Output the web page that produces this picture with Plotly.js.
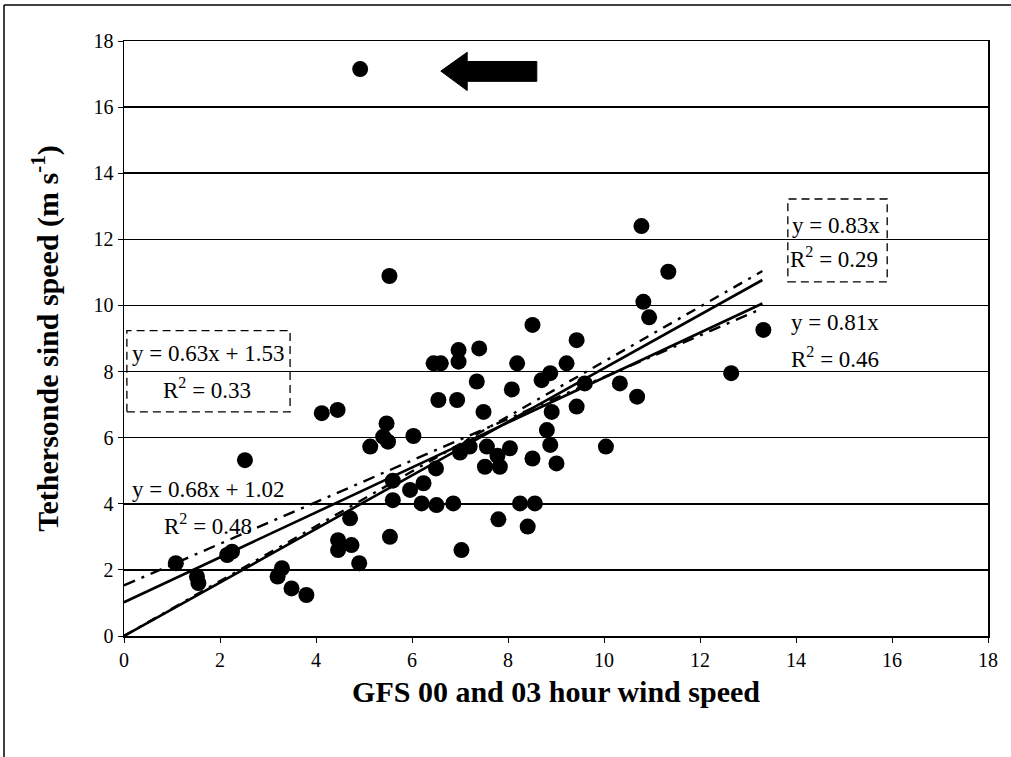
<!DOCTYPE html>
<html>
<head>
<meta charset="utf-8">
<script src="https://cdn.plot.ly/plotly-3.0.1.min.js"></script>
<style>html,body{margin:0;padding:0;background:#fff;}#chart{width:1011px;height:757px;}</style>
</head>
<body>
<div id="chart"></div>
<script>
// Observations: GFS wind speed (x) vs tethersonde wind speed (y)
const gfsSpeed = [1.08,1.52,1.55,2.15,2.25,2.52,3.29,3.2,3.49,3.8,4.12,4.45,4.71,4.46,4.74,4.46,4.9,4.92,5.13,5.47,5.4,5.5,5.53,5.54,5.6,5.6,5.96,6.03,6.2,6.24,6.45,6.6,6.5,6.51,6.55,6.86,6.94,6.97,6.97,7.0,7.03,7.2,7.35,7.4,7.49,7.52,7.56,7.78,7.83,7.8,8.04,8.08,8.19,8.25,8.41,8.51,8.51,8.56,8.7,8.81,8.88,8.88,8.91,9.01,9.22,9.43,9.43,9.6,10.04,10.33,10.69,10.78,10.82,10.94,11.34,12.65,13.32];
const tetherSpeed = [2.2,1.8,1.6,2.45,2.55,5.32,2.05,1.8,1.44,1.24,6.74,6.84,3.56,2.9,2.75,2.6,2.2,17.15,5.73,6.43,6.03,5.88,10.89,3.0,4.11,4.7,4.42,6.05,4.01,4.62,8.25,8.25,5.07,3.96,7.14,4.01,7.14,8.65,8.3,5.55,2.6,5.73,7.7,8.7,6.78,5.12,5.73,5.45,5.12,3.53,5.68,7.46,8.25,4.01,3.31,9.41,5.37,4.01,7.74,6.23,7.95,5.78,6.78,5.22,8.25,8.95,6.94,7.64,5.73,7.64,7.24,12.4,10.11,9.64,11.02,7.95,9.26];

// Trend lines (endpoints of the fitted lines over the data range)
const fitX = [0, 13.3];
const fit081 = [0, 10.77];        // y = 0.81x
const fit083 = [0, 11.04];        // y = 0.83x
const fit068 = [1.02, 10.06];     // y = 0.68x + 1.02
const fit063 = [1.53, 9.91];      // y = 0.63x + 1.53

// Axis ticks
const xTicks = [0,2,4,6,8,10,12,14,16,18];
const yTicks = [0,2,4,6,8,10,12,14,16,18];

const serif = "Liberation Serif, Times New Roman, serif";

const traces = [
  {x: fitX, y: fit081, mode: 'lines', line: {color: '#000', width: 2.6}, hoverinfo: 'skip'},
  {x: fitX, y: fit068, mode: 'lines', line: {color: '#000', width: 2.6}, hoverinfo: 'skip'},
  {x: fitX, y: fit083, mode: 'lines', line: {color: '#000', width: 2.4, dash: '10px,7px,3px,7px'}, hoverinfo: 'skip'},
  {x: fitX, y: fit063, mode: 'lines', line: {color: '#000', width: 2.4, dash: '12px,7px,3px,7px'}, hoverinfo: 'skip'},
  {x: gfsSpeed, y: tetherSpeed, mode: 'markers', marker: {color: '#000', size: 16, symbol: 'circle'}}
];

const ann = (x, y, t) => ({x: x, y: y, xref: 'x', yref: 'y', text: t, showarrow: false,
  font: {family: serif, size: 23, color: '#000'}});

const layout = {
  width: 1011, height: 757,
  paper_bgcolor: '#fff', plot_bgcolor: '#fff',
  showlegend: false,
  margin: {l: 124, r: 23, t: 41, b: 121},
  font: {family: serif, color: '#000'},
  xaxis: {
    range: [0, 18], tickvals: xTicks, ticktext: xTicks.map(String),
    showgrid: false, zeroline: false,
    showline: true, linecolor: '#000', linewidth: 1.5, mirror: true,
    ticks: 'outside', ticklen: 5, tickcolor: '#000',
    tickfont: {family: serif, size: 20, color: '#000'},
    title: {text: '<b>GFS 00 and 03 hour wind speed</b>', font: {family: serif, size: 30, color: '#000'}, standoff: 11}
  },
  yaxis: {
    range: [0, 18], tickvals: yTicks, ticktext: yTicks.map(String),
    showgrid: true, gridcolor: '#000', gridwidth: 1.5, zeroline: false,
    showline: true, linecolor: '#000', linewidth: 1.5, mirror: true,
    ticks: 'outside', ticklen: 5, tickcolor: '#000',
    tickfont: {family: serif, size: 20, color: '#000'},
    title: {text: '<b>Tethersonde sind speed (m s<sup>-1</sup>)</b>', font: {family: serif, size: 30, color: '#000'}, standoff: 26}
  },
  shapes: [
    // outer frame (top and left edges visible)
    {type: 'line', xref: 'paper', yref: 'paper', x0: (4-124)/864, x1: (1011-124)/864, y0: (636-5)/595, y1: (636-5)/595,
     line: {color: '#000', width: 1.5}},
    {type: 'line', xref: 'paper', yref: 'paper', x0: (4-124)/864, x1: (4-124)/864, y0: (636-5)/595, y1: (636-757)/595,
     line: {color: '#000', width: 1.5}},
    // dashed equation boxes
    {type: 'rect', xref: 'x', yref: 'y', x0: 0.06, x1: 3.46, y0: 6.78, y1: 9.24, line: {color: '#000', width: 1.3, dash: '8px,5px'}},
    {type: 'rect', xref: 'x', yref: 'y', x0: 13.83, x1: 15.9, y0: 10.71, y1: 13.22, line: {color: '#000', width: 1.3, dash: '8px,5px'}},
    // arrow pointing at the outlier
    {type: 'path', xref: 'x', yref: 'y',
     path: 'M 6.6 17.09 L 7.15 17.66 L 7.15 17.38 L 8.6 17.38 L 8.6 16.78 L 7.15 16.78 L 7.15 16.5 Z',
     fillcolor: '#000', line: {color: '#000', width: 1}}
  ],
  annotations: [
    ann(1.75, 8.56, 'y = 0.63x + 1.53'),
    ann(1.73, 7.5, 'R<sup>2</sup> = 0.33'),
    ann(1.74, 4.42, 'y = 0.68x + 1.02'),
    ann(1.74, 3.36, 'R<sup>2</sup> = 0.48'),
    ann(14.83, 12.43, 'y = 0.83x'),
    ann(14.8, 11.46, 'R<sup>2</sup> = 0.29'),
    ann(14.81, 9.47, 'y = 0.81x'),
    ann(14.81, 8.44, 'R<sup>2</sup> = 0.46')
  ]
};

Plotly.newPlot('chart', traces, layout, {displayModeBar: false, staticPlot: true});
</script>
</body>
</html>
